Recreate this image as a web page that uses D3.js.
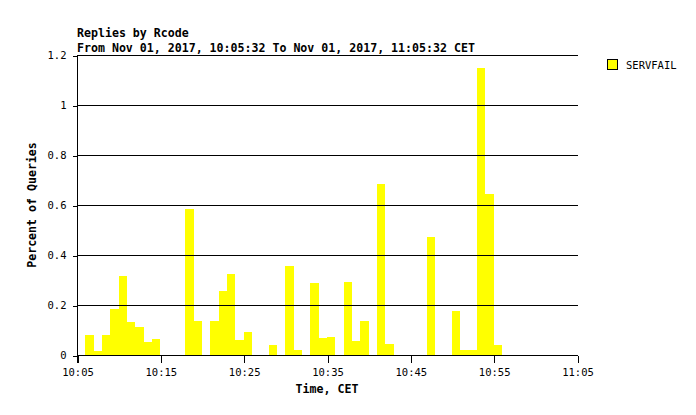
<!DOCTYPE html>
<html>
<head>
<meta charset="utf-8">
<script src="https://cdn.jsdelivr.net/npm/d3@7"></script>
<style>
  html, body { margin: 0; padding: 0; background: #ffffff; }
  svg { display: block; }
  text { font-family: "DejaVu Sans Mono", "Liberation Mono", monospace; fill: #000; }
</style>
</head>
<body>
<svg id="chart" width="696" height="415"></svg>
<script>
// ---- data ----
const titleLines = ["Replies by Rcode", "From Nov 01, 2017, 10:05:32 To Nov 01, 2017, 11:05:32 CET"];
const seriesName = "SERVFAIL";
const minutes = ["10:06","10:07","10:08","10:09","10:10","10:11","10:12","10:13","10:14",
                 "10:18","10:19","10:21","10:22","10:23","10:24","10:25",
                 "10:28","10:30","10:31","10:33","10:34","10:35",
                 "10:37","10:38","10:39","10:41","10:42","10:47",
                 "10:50","10:51","10:52","10:53","10:54","10:55"];
const values  = [0.08, 0.015, 0.08, 0.184, 0.316, 0.132, 0.112, 0.052, 0.064,
                 0.584, 0.136, 0.136, 0.256, 0.324, 0.06, 0.092,
                 0.04, 0.356, 0.02, 0.288, 0.068, 0.072,
                 0.292, 0.056, 0.136, 0.684, 0.044, 0.472,
                 0.176, 0.02, 0.02, 1.148, 0.644, 0.04];
const yTicks = [0, 0.2, 0.4, 0.6, 0.8, 1, 1.2];
const xTicks = ["10:05", "10:15", "10:25", "10:35", "10:45", "10:55", "11:05"];
const xStart = "10:05", xEnd = "11:05";

// ---- layout ----
const svg = d3.select("#chart");
const pLeft = 77, pRight = 577, pTop = 55, pBottom = 355;
const parse = s => d3.timeParse("%Y-%m-%d %H:%M")("2017-11-01 " + s);

const x = d3.scaleTime().domain([parse(xStart), parse(xEnd)]).range([pLeft, pRight]);
const y = d3.scaleLinear().domain([0, 1.2]).range([pBottom, pTop]);

const data = minutes.map((m, i) => ({ t: parse(m), v: values[i] }));

// bars
svg.append("g").selectAll("rect").data(data).join("rect")
  .attr("x", d => Math.round(x(d.t)))
  .attr("width", d => Math.round(x(d3.timeMinute.offset(d.t, 1))) - Math.round(x(d.t)))
  .attr("y", d => Math.round(y(d.v)))
  .attr("height", d => pBottom - Math.round(y(d.v)))
  .attr("fill", "#ffff00")
  .attr("shape-rendering", "crispEdges");

// gridlines
svg.append("g").selectAll("line").data(yTicks).join("line")
  .attr("x1", pLeft).attr("x2", pRight + 1)
  .attr("y1", d => Math.round(y(d)) + 0.5).attr("y2", d => Math.round(y(d)) + 0.5)
  .attr("stroke", "#000").attr("stroke-width", 1)
  .attr("shape-rendering", "crispEdges");

// y axis
const yAxis = d3.axisLeft(y).tickValues(yTicks).tickSize(5).tickPadding(6)
  .tickFormat(d => d3.format("")(+d.toFixed(1)));
const yg = svg.append("g").attr("transform", `translate(${pLeft + 0.5},0.5)`).call(yAxis);
yg.select(".domain").remove();
yg.append("line").attr("x1", 0).attr("x2", 0).attr("y1", pTop - 0.5).attr("y2", pBottom + 7)
  .attr("stroke", "#000").attr("shape-rendering", "crispEdges");
yg.selectAll(".tick line").attr("stroke", "#000").attr("shape-rendering", "crispEdges");
yg.selectAll(".tick text").attr("font-size", 10.5).attr("font-family", "DejaVu Sans Mono");

// x axis
const xAxis = d3.axisBottom(x).tickValues(xTicks.map(parse)).tickSize(7).tickPadding(6)
  .tickFormat(d3.timeFormat("%H:%M"));
const xg = svg.append("g").attr("transform", `translate(0.5,${pBottom + 0.5})`).call(xAxis);
xg.select(".domain").remove();
xg.selectAll(".tick line").attr("stroke", "#000").attr("shape-rendering", "crispEdges");
xg.selectAll(".tick text").attr("font-size", 10.5).attr("font-family", "DejaVu Sans Mono");

// titles
svg.append("text").attr("x", pLeft).attr("y", 37)
  .attr("font-size", 11.6).attr("font-weight", "bold").text(titleLines[0]);
svg.append("text").attr("x", pLeft).attr("y", 52)
  .attr("font-size", 11.6).attr("font-weight", "bold").text(titleLines[1]);

// axis titles
svg.append("text").attr("x", (pLeft + pRight) / 2).attr("y", 393)
  .attr("text-anchor", "middle").attr("font-size", 11.6).attr("font-weight", "bold")
  .text("Time, CET");
svg.append("text").attr("transform", `translate(36,${(pTop + pBottom) / 2}) rotate(-90)`)
  .attr("text-anchor", "middle").attr("font-size", 11.6).attr("font-weight", "bold")
  .text("Percent of Queries");

// legend
svg.append("rect").attr("x", 607.5).attr("y", 59.5).attr("width", 10).attr("height", 10)
  .attr("fill", "#ffff00").attr("stroke", "#000").attr("shape-rendering", "crispEdges");
svg.append("text").attr("x", 626).attr("y", 69).attr("font-size", 10.5).text(seriesName);
</script>
</body>
</html>
